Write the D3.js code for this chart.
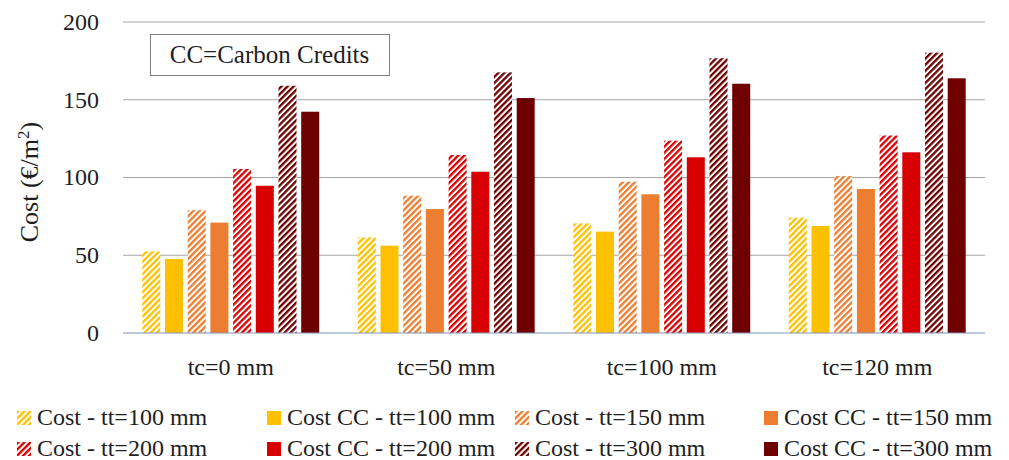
<!DOCTYPE html>
<html>
<head>
<meta charset="utf-8">
<script src="https://cdn.jsdelivr.net/npm/d3@7"></script>
<style>
  body { margin: 0; background: #fff; }
  text { font-family: "Palatino Linotype", "Book Antiqua", Palatino, "Liberation Serif", serif; fill: #1e1e1e; }
</style>
</head>
<body>
<script>
var w = 1009;
var h = 460;

var groups = ["tc=0 mm", "tc=50 mm", "tc=100 mm", "tc=120 mm"];

var cost100   = [52.5, 61.5, 70.5, 74.2];
var costCC100 = [47.6, 56.2, 65.2, 68.8];
var cost150   = [79.0, 88.3, 97.3, 101.0];
var costCC150 = [71.0, 79.7, 89.2, 92.6];
var cost200   = [105.5, 114.5, 123.7, 127.0];
var costCC200 = [94.7, 103.7, 113.0, 116.2];
var cost300   = [159.0, 167.6, 176.7, 180.3];
var costCC300 = [142.3, 151.1, 160.3, 163.8];

var yTicks = [0, 50, 100, 150, 200];

var seriesNames = ["Cost - tt=100 mm", "Cost CC - tt=100 mm", "Cost - tt=150 mm", "Cost CC - tt=150 mm",
                   "Cost - tt=200 mm", "Cost CC - tt=200 mm", "Cost - tt=300 mm", "Cost CC - tt=300 mm"];
var seriesValues = [cost100, costCC100, cost150, costCC150, cost200, costCC200, cost300, costCC300];
var seriesColors = ["#FFC000", "#FFC000", "#ED7D31", "#ED7D31", "#D80000", "#D80000", "#6E0000", "#6E0000"];
var seriesHatched = [true, false, true, false, true, false, true, false];

var series = seriesNames.map(function(n, i) {
  return {name: n, key: "s" + i, values: seriesValues[i], color: seriesColors[i], hatched: seriesHatched[i]};
});

var svg = d3.select("body").append("svg")
  .attr("width", w)
  .attr("height", h);

// hatch patterns
var defs = svg.append("defs");
series.forEach(function(s) {
  if (!s.hatched) return;
  var p = defs.append("pattern")
    .attr("id", "hatch-" + s.key)
    .attr("patternUnits", "userSpaceOnUse")
    .attr("width", 4.3)
    .attr("height", 4.3)
    .attr("patternTransform", "rotate(45)");
  p.append("rect").attr("width", 4.3).attr("height", 4.3).attr("fill", "#fff");
  p.append("rect").attr("x", 0).attr("width", 2.3).attr("height", 4.3).attr("fill", s.color);
});

function fillOf(s) {
  return s.hatched ? "url(#hatch-" + s.key + ")" : s.color;
}

var plotL = 123, plotR = 985, plotT = 22, plotB = 333;

var y = d3.scaleLinear().domain([0, 200]).range([plotB, plotT]);

var x0 = d3.scaleBand().domain(groups).range([plotL, plotR]).padding(0);
var x1 = d3.scaleBand().domain(series.map(function(s){ return s.key; }))
  .range([0, x0.bandwidth()])
  .paddingInner(0.207)
  .paddingOuter(0.85);

// gridlines
svg.append("g").selectAll("line")
  .data(yTicks.filter(function(t){ return t > 0; }))
  .enter()
  .append("line")
  .attr("x1", plotL)
  .attr("x2", plotR)
  .attr("y1", function(d){ return y(d); })
  .attr("y2", function(d){ return y(d); })
  .attr("stroke", "#a6a6a6")
  .attr("stroke-width", 1.2);

// y tick labels
svg.append("g").selectAll("text")
  .data(yTicks)
  .enter()
  .append("text")
  .attr("x", 99)
  .attr("y", function(d){ return y(d); })
  .attr("dy", "0.33em")
  .attr("text-anchor", "end")
  .attr("font-size", "24px")
  .text(function(d){ return d; });

// bars
var gGroups = svg.append("g").selectAll("g")
  .data(groups)
  .enter()
  .append("g")
  .attr("transform", function(d){ return "translate(" + x0(d) + ",0)"; });

gGroups.selectAll("rect")
  .data(function(d, gi) {
    return series.map(function(s){ return {s: s, v: s.values[gi]}; });
  })
  .enter()
  .append("rect")
  .attr("x", function(d){ return x1(d.s.key); })
  .attr("width", x1.bandwidth())
  .attr("y", function(d){ return y(d.v); })
  .attr("height", function(d){ return y(0) - y(d.v); })
  .attr("fill", function(d){ return fillOf(d.s); });

// baseline axis
svg.append("line")
  .attr("x1", plotL).attr("x2", plotR)
  .attr("y1", y(0)).attr("y2", y(0))
  .attr("stroke", "#7f93b8")
  .attr("stroke-width", 1.2);

// category labels
svg.append("g").selectAll("text")
  .data(groups)
  .enter()
  .append("text")
  .attr("x", function(d){ return x0(d) + x0.bandwidth() / 2; })
  .attr("y", 375)
  .attr("text-anchor", "middle")
  .attr("font-size", "24px")
  .text(function(d){ return d; });

// y axis title
var yTitle = svg.append("text")
  .attr("transform", "translate(38,182) rotate(-90)")
  .attr("text-anchor", "middle")
  .attr("font-size", "26px");
yTitle.append("tspan").text("Cost (€/m");
yTitle.append("tspan").attr("font-size", "17px").attr("dy", "-9").text("2");
yTitle.append("tspan").attr("dy", "9").text(")");

// note box
svg.append("rect")
  .attr("x", 150.5).attr("y", 34.5)
  .attr("width", 239).attr("height", 41)
  .attr("fill", "#fff")
  .attr("stroke", "#7f7f7f")
  .attr("stroke-width", 1);
svg.append("text")
  .attr("x", 269.5).attr("y", 63)
  .attr("text-anchor", "middle")
  .attr("font-size", "25px")
  .text("CC=Carbon Credits");

// legend
var legX = [17, 267, 515, 764];
var legY = [411, 442];
var legend = svg.append("g").selectAll("g")
  .data(series)
  .enter()
  .append("g")
  .attr("transform", function(d, i){ return "translate(" + legX[i % 4] + "," + legY[Math.floor(i / 4)] + ")"; });

legend.append("rect")
  .attr("width", 14)
  .attr("height", 14)
  .attr("fill", function(d){ return fillOf(d); });

legend.append("text")
  .attr("x", 20)
  .attr("y", 14)
  .attr("font-size", "24px")
  .text(function(d){ return d.name; });
</script>
</body>
</html>
